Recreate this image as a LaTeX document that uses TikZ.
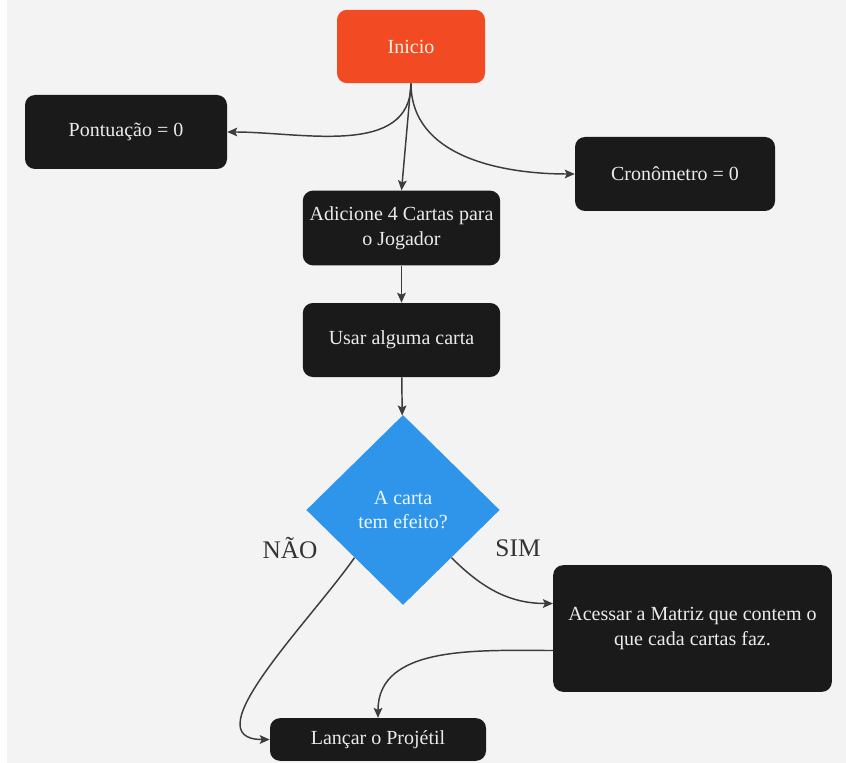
\documentclass[tikz,border=0pt]{standalone}
\usepackage{fontspec}
\setmainfont{Liberation Serif}
\usetikzlibrary{arrows.meta,shapes.geometric}
\definecolor{fundo}{HTML}{F3F3F3}
\definecolor{caixapreta}{HTML}{1A1A1A}
\definecolor{laranja}{HTML}{F24B24}
\definecolor{azul}{HTML}{2E95EA}
\definecolor{seta}{HTML}{3C3C3C}
\tikzset{
	caixa/.style={rectangle, rounded corners=7.5pt, fill=caixapreta, text=white!92!black, align=center, font=\fontsize{15}{19}\selectfont, inner sep=0pt},
	inicio/.style={caixa, fill=laranja, text=orange!10!white},
	decisao/.style={diamond, fill=azul, text=cyan!8!white, align=center, font=\fontsize{15}{18}\selectfont, inner sep=0pt, minimum width=145pt, minimum height=142.5pt},
	rotulo/.style={text=black!80, font=\fontsize{19}{22}\selectfont},
	fluxo/.style={color=seta, line width=1.1pt, -{Stealth[length=7.5pt,width=6.5pt,inset=1.5pt]}},
}
\begin{document}
\begin{tikzpicture}[x=0.75pt,y=-0.75pt]
	\fill[white] (0,0) rectangle (846,763);
	\fill[fundo] (7,0) rectangle (846,763);
	\node[inicio, minimum width=111pt, minimum height=55pt] at (411,46.5) (ini) {Inicio};
	\node[caixa, minimum width=151.5pt, minimum height=55.5pt] at (126,132) (pont) {Pontuação = 0};
	\node[caixa, minimum width=150pt, minimum height=55.5pt] at (675,174) (cron) {Cronômetro = 0};
	\node[caixa, minimum width=148pt, minimum height=56pt] at (401.5,228) (adic) {Adicione 4 Cartas para\\o Jogador};
	\node[caixa, minimum width=148pt, minimum height=55.5pt] at (401.5,340) (usar) {Usar alguma carta};
	\node[decisao] at (403,510) (dec) {A carta\\tem efeito?};
	\node[rotulo] at (290,548) (nao) {NÃO};
	\node[rotulo] at (518,548) (sim) {SIM};
	\node[caixa, minimum width=209pt, minimum height=95pt] at (692.5,628.5) (matr) {Acessar a Matriz que contem o\\que cada cartas faz.};
	\node[caixa, minimum width=162pt, minimum height=32pt] at (378,739.5) (lanc) {Lançar o Projétil};
	\path[fluxo] (ini.south) edge[out=-90, in=0] (pont.east);
	\path[fluxo] (ini.south) edge (adic.north);
	\path[fluxo] (ini.south) edge[out=-90, in=180] (cron.west);
	\path[fluxo] (adic) edge (usar);
	\path[fluxo] (usar) edge (dec);
	\path[fluxo] (dec.south east) edge[out=-45, in=180] ([yshift=18.75pt]matr.west);
	\path[fluxo] (dec.south west) edge[out=-125, in=180] (lanc.west);
	\path[fluxo] ([yshift=-16.5pt]matr.west) edge[out=180, in=90] (lanc.north);
\end{tikzpicture}
\end{document}
